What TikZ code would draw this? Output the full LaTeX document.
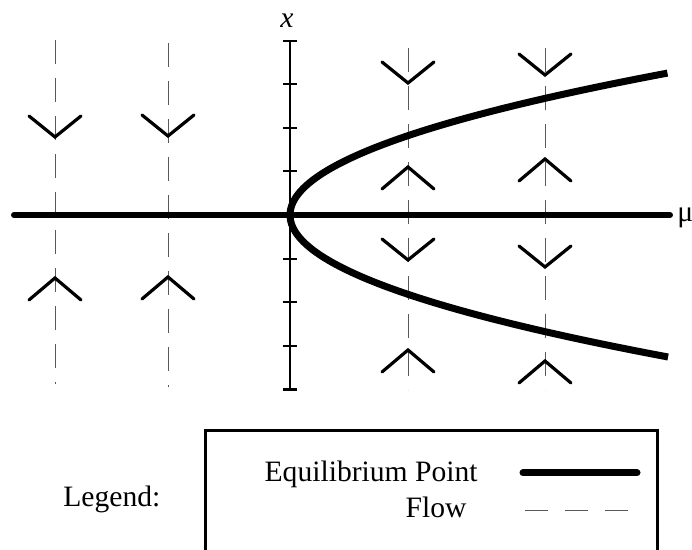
\documentclass[tikz,border=0pt]{standalone}
\usepackage{fontspec}
\setmainfont{Liberation Serif}
\usepackage{tikz}
\usetikzlibrary{calc}
\tikzstyle{axisline} = [line width=3pt]
\tikzstyle{eqcurve} = [line width=3.5pt]
\tikzstyle{flowline} = [gray!70!black, line width=0.5pt, dash pattern=on 12pt off 7pt]
\tikzstyle{chevron} = [line width=1.6pt, line cap=round]
\tikzstyle{label} = [inner sep=0pt, font=\fontsize{14.8}{17}\selectfont]
% V points down (flow towards larger y), A points up
\newcommand{\flowdown}[2]{\draw[chevron] (#1-26,#2-21) -- (#1,#2) -- (#1+26,#2-21);}
\newcommand{\flowup}[2]{\draw[chevron] (#1-26,#2+22) -- (#1,#2) -- (#1+26,#2+22);}

\begin{document}
\begin{tikzpicture}[x=0.5pt,y=-0.5pt]
    \useasboundingbox (0,0) rectangle (692,550);

    % flow lines
    \draw[flowline] (55,40) -- (55,384);
    \draw[flowline] (168,43) -- (168,387);
    \draw[flowline] (408,48) -- (408,390);
    \draw[flowline] (545,48) -- (545,390);

    % axes
    \draw[axisline, line cap=round] (14,215) -- (670,215);
    \draw[line width=1pt] (290,41) -- (290,390);
    \foreach \k in {1,...,4} {
        \draw[line width=1pt] (283,215-43.6*\k) -- (297,215-43.6*\k);
        \draw[line width=1pt] (283,215+43.6*\k) -- (297,215+43.6*\k);
    }
    \draw[line width=1pt] (283,41) -- (297,41);
    \draw[line width=1pt] (283,390) -- (297,390);
    \node[label, anchor=base] (xlab) at (287,28) {\textit{x}};
    \node[label, anchor=base west] (mulab) at (677,222) {μ};

    % equilibrium points
    \draw[eqcurve] plot[domain=-1.42:1.42, samples=80, smooth] ({290+187.5*\x*\x},{215-100*\x});

    % flow direction
    \flowdown{55}{137}   \flowup{55}{278}
    \flowdown{168}{136}  \flowup{168}{277}
    \flowdown{408}{83}   \flowup{408}{167}
    \flowdown{408}{260}  \flowup{408}{350}
    \flowdown{545}{75}   \flowup{545}{159}
    \flowdown{545}{267}  \flowup{545}{361}

    % legend
    \node[label, anchor=base west] (legend) at (63,507) {Legend:};
    \draw[line width=1.5pt] (205,552) -- (205,431) -- (657,431) -- (657,552);
    \node[label, anchor=base east] (eqtext) at (478,482) {Equilibrium Point};
    \node[label, anchor=base east] (flowtext) at (467,518) {Flow};
    \coordinate (eqa) at (523,473);
    \coordinate (eqb) at (637,473);
    \draw[eqcurve, line cap=round] (eqa) -- (eqb);
    \coordinate (fla) at (525,511);
    \coordinate (flb) at (632,511);
    \draw[flowline, dash pattern=on 11.5pt off 8.5pt] (fla) -- (flb);
\end{tikzpicture}
\end{document}
